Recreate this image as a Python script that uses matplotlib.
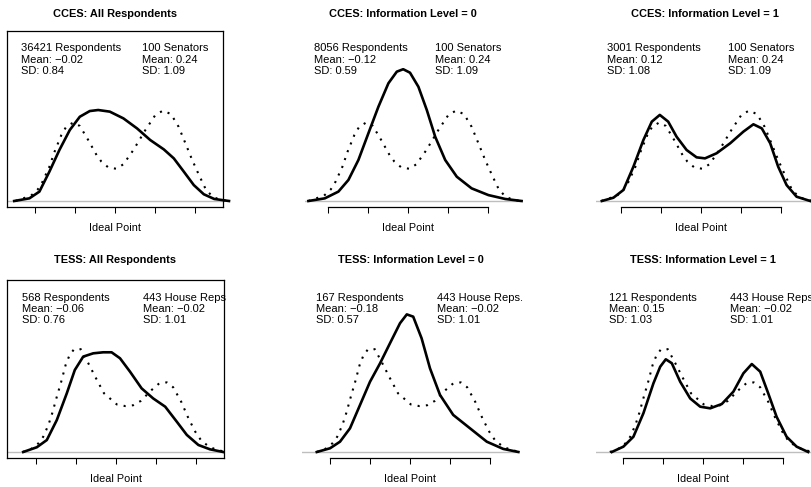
import numpy as np
import matplotlib.pyplot as plt

plt.rcParams['font.family'] = ['Liberation Sans', 'DejaVu Sans']

# ideal point grids and densities
senators_x = [-2.49, -2.10, -1.93, -1.81, -1.64, -1.51, -1.34, -1.22, -1.05, -0.88, -0.67, -0.46,
              -0.34, -0.17, 0.03, 0.21, 0.46, 0.76, 1.01, 1.20, 1.40, 1.59, 1.76, 1.93, 2.10,
              2.27, 2.44, 2.60, 2.80]
senators_y = [0.0, 0.026, 0.057, 0.095, 0.168, 0.242, 0.324, 0.364, 0.384, 0.368, 0.299, 0.225,
              0.193, 0.165, 0.158, 0.18, 0.25, 0.348, 0.422, 0.443, 0.426, 0.364, 0.283, 0.201,
              0.127, 0.057, 0.021, 0.008, 0.0]

house_x = [-2.33, -2.11, -1.94, -1.82, -1.69, -1.59, -1.48, -1.37, -1.26, -1.17, -1.05, -0.88,
           -0.69, -0.50, -0.30, 0.02, 0.23, 0.43, 0.62, 0.89, 1.08, 1.27, 1.43, 1.63, 1.81,
           1.98, 2.14, 2.31, 2.48, 2.68]
house_y = [0.0, 0.016, 0.042, 0.074, 0.131, 0.191, 0.268, 0.341, 0.422, 0.466, 0.499, 0.499,
           0.43, 0.358, 0.285, 0.231, 0.223, 0.227, 0.248, 0.301, 0.333, 0.338, 0.314, 0.244,
           0.164, 0.099, 0.053, 0.029, 0.013, 0.003]

cces_all_x = [-2.52, -2.14, -1.89, -1.64, -1.39, -1.13, -0.88, -0.63, -0.42, -0.13, 0.21, 0.55,
              0.88, 1.22, 1.47, 1.72, 1.97, 2.22, 2.48, 2.85]
cces_all_y = [0.0, 0.013, 0.046, 0.144, 0.25, 0.348, 0.413, 0.441, 0.446, 0.438, 0.405, 0.356,
              0.299, 0.253, 0.209, 0.144, 0.078, 0.033, 0.01, 0.0]

cces_0_x = [-2.49, -2.08, -1.74, -1.49, -1.24, -0.99, -0.74, -0.49, -0.28, -0.12, 0.05, 0.26,
            0.47, 0.68, 0.93, 1.22, 1.59, 2.01, 2.43, 2.84]
cces_0_y = [0.0, 0.013, 0.046, 0.103, 0.201, 0.332, 0.462, 0.577, 0.634, 0.646, 0.629, 0.56,
            0.446, 0.315, 0.201, 0.119, 0.062, 0.029, 0.01, 0.0]

cces_1_x = [-2.48, -2.19, -1.94, -1.69, -1.44, -1.23, -1.03, -0.82, -0.61, -0.36, -0.11, 0.10,
            0.39, 0.73, 1.06, 1.31, 1.52, 1.73, 1.93, 2.14, 2.39, 2.73]
cces_1_y = [0.0, 0.016, 0.054, 0.168, 0.299, 0.389, 0.422, 0.389, 0.315, 0.25, 0.214, 0.209,
            0.234, 0.283, 0.34, 0.376, 0.356, 0.283, 0.168, 0.078, 0.021, 0.0]

tess_all_x = [-2.32, -1.98, -1.73, -1.48, -1.23, -1.03, -0.82, -0.57, -0.32, -0.11, 0.10, 0.35,
              0.64, 0.93, 1.23, 1.52, 1.77, 2.06, 2.35, 2.68]
tess_all_y = [0.0, 0.023, 0.058, 0.155, 0.285, 0.398, 0.463, 0.479, 0.484, 0.484, 0.455, 0.39,
              0.309, 0.26, 0.22, 0.147, 0.083, 0.034, 0.013, 0.0]

tess_0_x = [-2.33, -2.0, -1.75, -1.5, -1.25, -1.0, -0.75, -0.5, -0.25, -0.08, 0.08, 0.29,
            0.5, 0.75, 1.08, 1.5, 1.92, 2.33, 2.71]
tess_0_y = [0.0, 0.018, 0.05, 0.115, 0.228, 0.341, 0.43, 0.528, 0.625, 0.668, 0.657, 0.552,
            0.406, 0.277, 0.18, 0.115, 0.05, 0.015, 0.0]

tess_1_x = [-2.28, -1.99, -1.74, -1.49, -1.24, -1.07, -0.93, -0.78, -0.57, -0.32, -0.07, 0.18,
            0.47, 0.76, 1.01, 1.22, 1.43, 1.63, 1.84, 2.09, 2.34, 2.63]
tess_1_y = [0.0, 0.026, 0.074, 0.188, 0.333, 0.414, 0.45, 0.431, 0.341, 0.26, 0.22, 0.212,
            0.233, 0.293, 0.382, 0.427, 0.39, 0.285, 0.171, 0.074, 0.026, 0.0]

titles = ['CCES: All Respondents', 'CCES: Information Level = 0', 'CCES: Information Level = 1',
          'TESS: All Respondents', 'TESS: Information Level = 0', 'TESS: Information Level = 1']
resp_text = ['36421 Respondents\nMean: \u22120.02\nSD: 0.84',
             '8056 Respondents\nMean: \u22120.12\nSD: 0.59',
             '3001 Respondents\nMean: 0.12\nSD: 1.08',
             '568 Respondents\nMean: \u22120.06\nSD: 0.76',
             '167 Respondents\nMean: \u22120.18\nSD: 0.57',
             '121 Respondents\nMean: 0.15\nSD: 1.03']
elite_text = ['100 Senators\nMean: 0.24\nSD: 1.09'] * 3 + \
             ['443 House Reps\nMean: \u22120.02\nSD: 1.01',
              '443 House Reps.\nMean: \u22120.02\nSD: 1.01',
              '443 House Reps\nMean: \u22120.02\nSD: 1.01']
mass = [(cces_all_x, cces_all_y), (cces_0_x, cces_0_y), (cces_1_x, cces_1_y),
        (tess_all_x, tess_all_y), (tess_0_x, tess_0_y), (tess_1_x, tess_1_y)]
elite = [(senators_x, senators_y)] * 3 + [(house_x, house_y)] * 3
boxed = [True, False, False, True, False, False]

W, H = 812, 487
fig = plt.figure(figsize=(W / 100, H / 100), dpi=100)

# pixel layout: (left, right, zero tick) per panel, (top, bottom, baseline, px per unit) per row
cols = [(7, 223, 115), (305, 521, 408), (596, 812, 701),
        (7, 224, 116), (302, 518, 410), (596, 812, 703)]
rows = [(31, 207, 201, 204), (280, 458, 452, 206)]
title_cx = [115, 403, 705, 115, 411, 703]
title_y = [14, 260]
xscale = 40.0

for i in range(6):
    left, right, x0 = cols[i]
    top, bottom, base, ys = rows[i // 3]
    ax = fig.add_axes([left / W, (H - bottom) / H, (right - left) / W, (bottom - top) / H])
    ax.set_xlim((left - x0) / xscale, (right - x0) / xscale)
    ax.set_ylim((base - bottom) / ys, (base - top) / ys)
    ax.patch.set_alpha(0)

    ax.axhline(0, color='#bebebe', lw=1.0, zorder=1)
    ex, ey = elite[i]
    ax.plot(ex, ey, color='black', lw=1.5, linestyle=(0, (1.0, 3.0)), clip_on=False, zorder=2)
    mx, my = mass[i]
    ax.plot(mx, my, color='black', lw=1.9, solid_joinstyle='round', clip_on=False, zorder=3)

    ax.text(-2.35, 0.773, resp_text[i], fontsize=8.0, va='top', ha='left', linespacing=1.16)
    ax.text(0.67, 0.773, elite_text[i], fontsize=8.0, va='top', ha='left', linespacing=1.16,
            clip_on=False)

    ax.set_xticks([-2, -1, 0, 1, 2])
    ax.set_xticklabels([])
    ax.set_yticks([])
    ax.tick_params(axis='x', direction='out', length=4.3, width=0.75)
    for side in ['top', 'left', 'right']:
        ax.spines[side].set_visible(boxed[i])
        ax.spines[side].set_linewidth(0.9)
    ax.spines['bottom'].set_linewidth(0.9)
    if not boxed[i]:
        ax.spines['bottom'].set_bounds(-2, 2)

    ax.annotate('Ideal Point', xy=(0, 0), xycoords=('data', 'axes fraction'),
                xytext=(0, -15), textcoords='offset points', ha='center', va='center',
                fontsize=7.8)
    fig.text(title_cx[i] / W, 1 - title_y[i // 3] / H, titles[i], ha='center', va='center',
             fontsize=7.9, fontweight='bold')

fig.savefig('out.png', dpi=100)
